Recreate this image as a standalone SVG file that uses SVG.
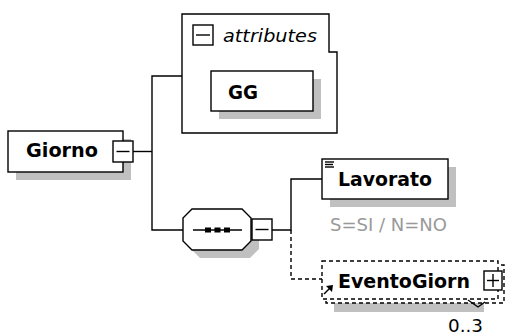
<svg xmlns="http://www.w3.org/2000/svg" width="505" height="336" viewBox="0 0 505 336">
<style>
.box{fill:#fff;stroke:#000;stroke-width:1.4}
.dbox{fill:#fff;stroke:#000;stroke-width:1.4;stroke-dasharray:4,3}
.sh{fill:#c0c0c0;stroke:none}
.ln{fill:none;stroke:#000;stroke-width:1.4}
.dln{fill:none;stroke:#000;stroke-width:1.4;stroke-dasharray:4,3}
.nm{font-family:"DejaVu Sans",sans-serif;font-weight:bold;font-size:19px;fill:#000}
.it{font-family:"DejaVu Sans",sans-serif;font-style:italic;font-size:17px;fill:#000}
.gr{font-family:"DejaVu Sans",sans-serif;font-size:17px;fill:#999}
.oc{font-family:"DejaVu Sans",sans-serif;font-size:17px;fill:#000}
</style>
<g id="connectors">
<polyline class="ln" points="133,151.5 152,151.5"/>
<polyline class="ln" points="182,76 152,76 152,230 183,230"/>
<polyline class="ln" points="272,230 291,230 291,179 322,179"/>
<polyline class="dln" points="291,230 291,279 322,279"/>
</g>
<g id="Giorno">
<rect class="sh" x="16" y="139" width="115" height="41"/>
<rect class="box" x="8" y="131" width="115" height="41"/>
<text class="nm" x="26" y="157" textLength="72" lengthAdjust="spacingAndGlyphs">Giorno</text>
<rect class="box" x="113" y="141" width="20" height="21"/>
<line class="ln" x1="116.5" y1="151.5" x2="129.5" y2="151.5"/>
</g>
<g id="attributes">
<polygon class="box" points="182,14 329,14 329,52 337,52 337,133 182,133"/>
<rect class="box" x="193" y="25" width="20" height="20"/>
<line class="ln" x1="196" y1="35" x2="210" y2="35"/>
<text class="it" x="223" y="42" textLength="94" lengthAdjust="spacingAndGlyphs">attributes</text>
</g>
<g id="GG">
<rect class="sh" x="219" y="79" width="102" height="40"/>
<rect class="box" x="211" y="71" width="102" height="40"/>
<text class="nm" x="228" y="99" textLength="30" lengthAdjust="spacingAndGlyphs">GG</text>
</g>
<g id="sequence">
<polygon class="sh" points="200,217 250,217 259,226 259,249 250,258 200,258 191,249 191,226"/>
<polygon class="box" points="192,209 242,209 251,218 251,241 242,250 192,250 183,241 183,218"/>
<line class="ln" x1="193" y1="230" x2="242" y2="230"/>
<rect x="205" y="227.5" width="6" height="5" fill="#000"/>
<rect x="214.5" y="227.5" width="6" height="5" fill="#000"/>
<rect x="224" y="227.5" width="6" height="5" fill="#000"/>
<rect class="box" x="252" y="219" width="20" height="21"/>
<line class="ln" x1="255.5" y1="229.5" x2="268.5" y2="229.5"/>
</g>
<g id="Lavorato">
<rect class="sh" x="330" y="167" width="126" height="40"/>
<rect class="box" x="322" y="159" width="126" height="40"/>
<line class="ln" x1="325" y1="162" x2="334" y2="162" stroke-width="1.2"/>
<line class="ln" x1="325" y1="164.5" x2="333" y2="164.5" stroke-width="1.2"/>
<line class="ln" x1="325" y1="167" x2="334" y2="167" stroke-width="1.2"/>
<text class="nm" x="338" y="186" textLength="94" lengthAdjust="spacingAndGlyphs">Lavorato</text>
<text class="gr" x="330" y="231" textLength="117" lengthAdjust="spacingAndGlyphs">S=SI / N=NO</text>
</g>
<g id="EventoGiorn">
<rect class="sh" x="334" y="303" width="150" height="9"/>
<rect class="dbox" x="326" y="265" width="178" height="38"/>
<rect class="dbox" x="322" y="261" width="176" height="38"/>
<line class="ln" x1="324" y1="294" x2="330" y2="288"/>
<polygon points="333,285 332,292 326,286" fill="#000"/>
<text class="nm" x="338" y="288" textLength="132" lengthAdjust="spacingAndGlyphs">EventoGiorn</text>
<rect class="box" x="484" y="271" width="18" height="19"/>
<line class="ln" x1="487" y1="280.5" x2="499" y2="280.5"/>
<line class="ln" x1="493" y1="274" x2="493" y2="287"/>
<polyline class="ln" points="468,300 478,307 485,302" stroke-width="1.2"/>
<text class="oc" x="448" y="332" textLength="35" lengthAdjust="spacingAndGlyphs">0..3</text>
</g>
</svg>
